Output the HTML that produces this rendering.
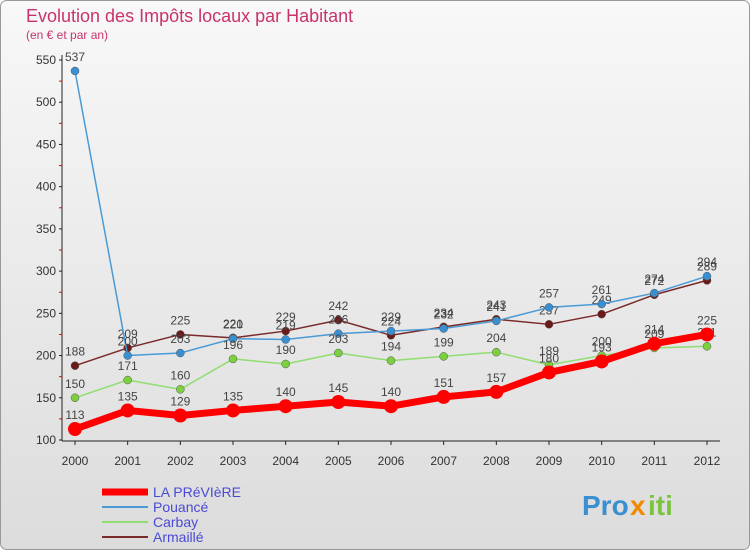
<!DOCTYPE html>
<html><head><meta charset="utf-8"><style>
body{margin:0;background:#fff;}
svg{display:block;font-family:"Liberation Sans",sans-serif;}
</style></head><body>
<svg width="750" height="550" viewBox="0 0 750 550">
<defs>
<linearGradient id="bg" x1="0" y1="0" x2="0" y2="1"><stop offset="0" stop-color="#f8f8f8"/><stop offset="1" stop-color="#dcdcdc"/></linearGradient>
</defs>
<rect x="0.5" y="0.5" width="749" height="549" rx="6" fill="url(#bg)" stroke="#999"/>
<text x="26" y="22" font-size="18" fill="#c8336e">Evolution des Impôts locaux par Habitant</text>
<text x="26" y="39" font-size="12" fill="#c8336e">(en € et par an)</text>
<g id="axes"></g>
<g id="series"></g>
<g id="legend"></g>
<g font-size="28" font-weight="bold">
<text x="582" y="515" fill="#3a8fd0">Pro</text><text x="630" y="515" fill="#f08a00">x</text><text x="648" y="515" fill="#7cc440">iti</text>
</g>
</svg>
<script>
const years=["2000","2001","2002","2003","2004","2005","2006","2007","2008","2009","2010","2011","2012"];
const yTicks=[100,150,200,250,300,350,400,450,500,550];
const prevere=[113,135,129,135,140,145,140,151,157,180,193,214,225];
const pouance=[537,200,203,220,219,226,229,232,241,257,261,274,294];
const carbay=[150,171,160,196,190,203,194,199,204,189,200,209,211];
const armaille=[188,209,225,221,229,242,224,234,243,237,249,272,289];
const NS="http://www.w3.org/2000/svg";
function X(i){return 75+i*(707-75)/(years.length-1);}
function Y(v){return 440-(v-100)*380/450;}
function mk(t,a,p){const e=document.createElementNS(NS,t);for(const k in a)e.setAttribute(k,a[k]);p.appendChild(e);return e;}
const ax=document.getElementById('axes');
let l=mk('line',{x1:62,y1:55,x2:62,y2:441,stroke:'#222'},ax);


l=mk('line',{x1:62,y1:441,x2:720,y2:441,stroke:'#222'},ax);


yTicks.forEach(v=>{
 const t=mk('text',{x:56,y:Y(v)+4,'font-size':12,fill:'#333','text-anchor':'end'},ax);t.textContent=v;
 
 
 mk('line',{x1:59,x2:62,y1:Y(v),y2:Y(v),stroke:'#222'},ax);
 if(v<550) mk('line',{x1:59,x2:62,y1:Y(v+25),y2:Y(v+25),stroke:'#e00'},ax);
});
years.forEach((y,i)=>{
 const t=mk('text',{x:X(i),y:465,'font-size':12,fill:'#333','text-anchor':'middle'},ax);t.textContent=y;
 
 
 mk('line',{x1:X(i),x2:X(i),y1:441,y2:445,stroke:'#222'},ax);
});
const sg=document.getElementById('series');
function draw(data,color,dot,w,r,name){
 const g=mk('g',{},sg);
 
 
 const p=mk('polyline',{points:data.map((v,i)=>X(i)+','+Y(v)).join(' '),fill:'none',stroke:color,'stroke-width':w,'stroke-linejoin':'round'},g);
 
 
 data.forEach((v,i)=>{
  const c=mk('circle',{cx:X(i),cy:Y(v),r:r,fill:dot,stroke:color==='#f00'?'none':'#555','stroke-width':0.5},g);
  
  
  const t=mk('text',{x:X(i),y:Y(v)-10,'font-size':12,fill:'#444','text-anchor':'middle'},g);t.textContent=v;
  
  
 });
}
draw(armaille,'#7a2a2a','#6b1a1a',1.5,4,'armaille');
draw(pouance,'#4a9ad6','#3a8fd0',1.5,4,'pouance');
draw(carbay,'#90dd70','#7cd040',1.5,4,'carbay');
draw(prevere,'#f00','#f00',7,7,'la-prevere');
const lg=document.getElementById('legend');
[['LA PRéVIèRE','#f00',7],['Pouancé','#4a9ad6',2],['Carbay','#90dd70',2],['Armaillé','#7a2a2a',2]].forEach((d,i)=>{
 const y=492+i*15;
 const g=mk('g',{},lg);
 
 
 mk('line',{x1:102,x2:148,y1:y,y2:y,stroke:d[1],'stroke-width':d[2]},g);
 const t=mk('text',{x:153,y:y+5,'font-size':14,fill:'#4a4ad6'},g);t.textContent=d[0];
});
</script>
</body></html>
